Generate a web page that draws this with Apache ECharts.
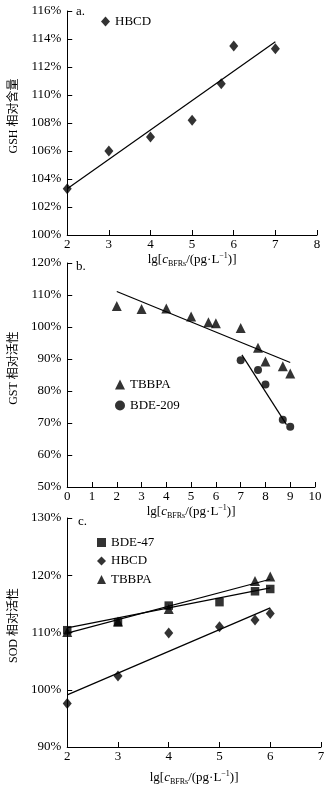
<!DOCTYPE html>
<html>
<head>
<meta charset="utf-8">
<script src="https://cdn.jsdelivr.net/npm/echarts@6/dist/echarts.min.js"></script>
<style>
  html, body { margin: 0; padding: 0; background: #fff; }
  #chart { width: 336px; height: 787px; }
</style>
</head>
<body>
<div id="chart"></div>
<script>
// a. GSH 相对含量 - HBCD
const gshHbcd = [[2, 103.3], [3, 106.0], [4, 107.0], [5, 108.2], [5.7, 110.8], [6, 113.5], [7, 113.3]];
const gshHbcdFit = [[2, 103.3], [7, 113.8]];

// b. GST 相对活性 - TBBPA / BDE-209
const gstTbbpa = [[2, 106.6], [3, 105.6], [4, 105.8], [5, 103.3], [5.7, 101.5], [6, 101.2], [7, 99.7], [7.7, 93.5], [8, 89.2], [8.7, 87.7], [9, 85.5]];
const gstTbbpaFit = [[2, 111.1], [9, 88.9]];
const gstBde209 = [[7, 89.6], [7.7, 86.6], [8, 82.0], [8.7, 71.0], [9, 68.8]];
const gstBde209Fit = [[7.05, 91.3], [8.85, 69.5]];

// c. SOD 相对活性 - BDE-47 / HBCD / TBBPA
const sodBde47 = [[2, 110.4], [3, 111.8], [4, 114.7], [5, 115.3], [5.7, 117.2], [6, 117.6]];
const sodBde47Fit = [[2, 110.8], [6, 117.8]];
const sodHbcd = [[2, 97.6], [3, 102.4], [4, 109.9], [5, 111.0], [5.7, 112.2], [6, 113.3]];
const sodHbcdFit = [[2, 99.1], [6, 114.3]];
const sodTbbpa = [[2, 110.1], [3, 111.9], [4, 114.1], [5.7, 119.0], [6, 119.8]];
const sodTbbpaFit = [[2, 109.9], [6, 119.3]];

const serif = 'Liberation Serif, "Noto Sans CJK SC", serif';
const black = '#000';

const xName = '{n|lg[}{i|c}{s|BFRs}{n|/(pg·L}{p|−1}{n|)]}';
const xNameRich = {
    n: { fontFamily: serif, fontSize: 13, color: black, lineHeight: 16 },
    i: { fontFamily: serif, fontSize: 13, fontStyle: 'italic', color: black, lineHeight: 16 },
    s: { fontFamily: serif, fontSize: 8, color: black, verticalAlign: 'bottom', lineHeight: 8 },
    p: { fontFamily: serif, fontSize: 8, color: black, verticalAlign: 'top', lineHeight: 8 }
};

function xAxis(idx, min, max, gap) {
    return {
        type: 'value', gridIndex: idx, min: min, max: max, interval: 1,
        name: xName, nameLocation: 'middle', nameGap: gap,
        nameTextStyle: { rich: xNameRich },
        axisLine: { lineStyle: { color: black, width: 1 } },
        axisTick: { inside: true, length: 5, lineStyle: { color: black } },
        axisLabel: { fontFamily: serif, fontSize: 13, color: black, margin: 3 },
        splitLine: { show: false }
    };
}

function yAxis(idx, min, max, step, name) {
    return {
        type: 'value', gridIndex: idx, min: min, max: max, interval: step,
        name: name, nameLocation: 'middle', nameGap: 41,
        nameTextStyle: { fontFamily: serif, fontSize: 12, color: black, padding: [0, 0, 0, 14] },
        axisLine: { show: true, lineStyle: { color: black, width: 1 } },
        axisTick: { show: true, inside: true, length: 5, lineStyle: { color: black } },
        axisLabel: { fontFamily: serif, fontSize: 13, color: black, margin: 6, formatter: '{value}%' },
        splitLine: { show: false }
    };
}

function dots(name, idx, data, symbol, size) {
    return {
        name: name, type: 'scatter', xAxisIndex: idx, yAxisIndex: idx,
        data: data, symbol: symbol, symbolSize: size,
        itemStyle: { color: black }, z: 3
    };
}

function fit(idx, data) {
    return {
        type: 'line', xAxisIndex: idx, yAxisIndex: idx, data: data,
        symbol: 'none', silent: true,
        lineStyle: { color: black, width: 1.2 }, z: 2
    };
}

const chart = echarts.init(document.getElementById('chart'));

const legendText = { fontFamily: serif, fontSize: 13, color: black };

chart.setOption({
    animation: false,
    backgroundColor: '#fff',
    grid: [
        { left: 61, top: 11, width: 256, height: 224 },
        { left: 61, top: 263, width: 254, height: 224 },
        { left: 61, top: 518, width: 260, height: 233 }
    ],
    xAxis: [xAxis(0, 2, 8, 16), xAxis(1, 0, 10, 17), xAxis(2, 2, 7, 23)],
    yAxis: [
        yAxis(0, 100, 116, 2, 'GSH 相对含量'),
        yAxis(1, 50, 120, 10, 'GST 相对活性'),
        yAxis(2, 90, 130, 10, 'SOD 相对活性')
    ],
    legend: [
        {
            left: 101, top: 15, padding: 0, itemWidth: 9, itemHeight: 10, itemGap: 5,
            textStyle: legendText,
            data: [{ name: 'HBCD', icon: 'diamond' }]
        },
        {
            left: 115, top: 378, padding: 0, orient: 'vertical', itemWidth: 10, itemHeight: 10, itemGap: 8,
            textStyle: legendText,
            data: [{ name: 'TBBPA', icon: 'triangle' }, { name: 'BDE-209', icon: 'circle' }]
        },
        {
            left: 97, top: 536, padding: 0, orient: 'vertical', itemWidth: 9, itemHeight: 9, itemGap: 5.5,
            textStyle: legendText,
            data: [{ name: 'BDE-47', icon: 'rect' }, { name: 'HBCD', icon: 'diamond' }, { name: 'TBBPA', icon: 'triangle' }]
        }
    ],
    graphic: [
        { type: 'text', left: 76, top: 5, style: { text: 'a.', font: '13px ' + serif, fill: black } },
        { type: 'text', left: 76, top: 260, style: { text: 'b.', font: '13px ' + serif, fill: black } },
        { type: 'text', left: 78, top: 515, style: { text: 'c.', font: '13px ' + serif, fill: black } }
    ],
    series: [
        fit(0, gshHbcdFit),
        dots('HBCD', 0, gshHbcd, 'diamond', [9, 11]),

        fit(1, gstTbbpaFit),
        fit(1, gstBde209Fit),
        dots('TBBPA', 1, gstTbbpa, 'triangle', 10),
        dots('BDE-209', 1, gstBde209, 'circle', 8),

        fit(2, sodBde47Fit),
        fit(2, sodTbbpaFit),
        fit(2, sodHbcdFit),
        dots('TBBPA', 2, sodTbbpa, 'triangle', 10),
        dots('HBCD', 2, sodHbcd, 'diamond', [9, 11]),
        dots('BDE-47', 2, sodBde47, 'rect', 8.5)
    ]
});

window.addEventListener('resize', function() {
    chart.resize();
});
</script>
</body>
</html>
